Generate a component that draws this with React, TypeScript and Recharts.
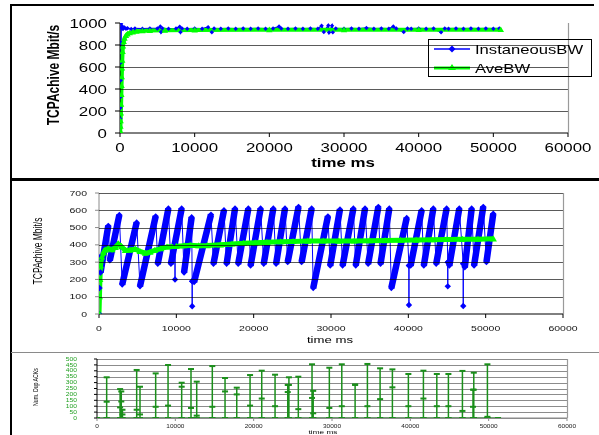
import { LineChart, Line, XAxis, YAxis, Legend } from 'recharts'

const BLUE = '#0000ff'
const LIME = '#00ff00'
const ACK_GREEN = '#1b8f1b'
const FONT = '"Liberation Sans", Arial, sans-serif'

// ---- top panel: throughput, whole run ----
const instTime1 = [
  0, 20, 40, 60, 80, 100, 120, 140, 160, 200,
  300, 400, 600, 800, 1000, 1500, 2000, 3000, 4000, 5000,
  5400, 5500, 5700, 6500, 7500, 8000, 8100, 8300, 9000, 10000,
  11000, 11800, 12300, 12600, 13500, 14500, 15500, 16500, 17500, 18500,
  19500, 20500, 21300, 21600, 22500, 23500, 24500, 25500, 26500, 27000,
  27300, 27900, 28000, 28400, 28500, 28900, 30000, 31000, 32000, 33000,
  34000, 35000, 36000, 36600, 37000, 38000, 38500, 39000, 40000, 41000,
  42000, 43000, 43500, 44000, 45000, 46000, 47000, 48000, 49000, 50000,
  50800,
]
const instBw1 = [
  0, 60, 130, 230, 330, 480, 640, 820, 1000, 955,
  970, 945, 960, 948, 952, 945, 950, 948, 950, 950,
  968, 918, 950, 948, 950, 966, 917, 950, 948, 950,
  948, 962, 916, 950, 948, 950, 948, 950, 948, 950,
  948, 950, 968, 950, 948, 950, 948, 950, 948, 975,
  918, 978, 914, 975, 915, 950, 948, 950, 948, 955,
  948, 950, 948, 968, 950, 918, 950, 948, 950, 948,
  950, 915, 950, 948, 950, 948, 950, 948, 950, 948,
  950,
]
const aveTime1 = [0, 30, 60, 90, 120, 150, 180, 210, 240, 270, 300, 350, 400, 500, 600, 800, 1000, 1300, 1700, 2200, 3000, 4000, 6000, 10000, 20000, 30000, 40000, 51000]
const aveBw1 = [0, 20, 60, 110, 180, 260, 350, 430, 510, 590, 660, 740, 790, 830, 860, 885, 900, 910, 918, 924, 928, 931, 934, 936, 938, 938, 939, 939]

// ---- middle panel: sawtooth run ----
const startTime2 = [0, 60, 120]
const startBw2 = [0, 150, 330]
const toothLowTime = [200, 1400, 3000, 5300, 7600, 9300, 11000, 12300, 14800, 16500, 18000, 19600, 21300, 22900, 24400, 26200, 27700, 29900, 31500, 33200, 34800, 36400, 37800, 40300, 42000, 43600, 45300, 47300, 48500, 50100]
const toothLowBw = [240, 310, 170, 160, 290, 290, 240, 185, 290, 290, 290, 280, 290, 290, 300, 300, 150, 280, 280, 280, 290, 290, 150, 280, 280, 290, 280, 270, 280, 300]
const toothPeakTime = [1200, 2630, 4870, 7330, 8970, 10690, 11980, 14480, 16160, 17590, 19310, 20900, 22540, 24050, 25800, 27500, 29600, 31160, 32890, 34400, 36120, 37540, 39790, 41720, 43230, 44950, 46590, 48190, 49690, 50980]
const toothPeakBw = [510, 573, 530, 565, 610, 610, 560, 575, 600, 610, 610, 610, 610, 610, 620, 610, 565, 605, 610, 610, 620, 610, 555, 600, 610, 610, 610, 610, 620, 580]
const dipTime = [9830, 12050, 40080, 45100, 47100]
const dipTop = [410, 190, 280, 300, 290]
const dipBottom = [200, 45, 52, 160, 46]
const aveTime2 = [0, 60, 120, 200, 350, 600, 800, 1200, 1700, 2100, 2500, 2900, 3400, 4000, 4700, 5300, 6000, 6600, 7200, 8000, 8800, 10000, 11000, 11800, 12900, 14000, 15700, 17200, 18700, 20200, 21700, 23500, 25100, 27000, 29000, 31000, 33000, 35000, 37000, 39000, 41000, 43000, 45000, 47000, 49000, 51000]
const aveBw2 = [0, 100, 200, 280, 330, 355, 370, 378, 372, 385, 405, 390, 368, 370, 375, 362, 352, 358, 368, 378, 388, 392, 395, 398, 395, 396, 400, 405, 410, 412, 415, 418, 420, 422, 423, 422, 423, 424, 425, 427, 428, 430, 431, 432, 433, 435]

// ---- bottom panel: duplicate ACKs ----
const ackTime = [1235, 2950, 3100, 3250, 5065, 5490, 7490, 9070, 10810, 12000, 12730, 14720, 16345, 17840, 19540, 21030, 22730, 24350, 24500, 25700, 27450, 27600, 29660, 31250, 32950, 34520, 36140, 37710, 39750, 41670, 43380, 44860, 46650, 48000, 48100, 49840]
const ackPeak = [345, 245, 225, 70, 407, 265, 378, 449, 299, 415, 308, 440, 339, 257, 364, 401, 367, 280, 345, 350, 455, 230, 426, 455, 285, 458, 421, 412, 373, 401, 373, 373, 399, 240, 384, 455]
const ackMid = [138, 90, 140, 30, 70, 30, 95, 105, 265, 85, 20, 95, 225, 200, 105, 165, 100, 220, 280, 75, 170, 40, 85, 100, 280, 100, 160, 260, 100, 165, 100, 100, 60, 95, 240, 10]
const ackEndTime = 51200

const timeTicks = [0, 10000, 20000, 30000, 40000, 50000, 60000]
const bwTicks1 = [0, 200, 400, 600, 800, 1000]
const bwTicks2 = [0, 100, 200, 300, 400, 500, 600, 700]
const ackTicks = [0, 50, 100, 150, 200, 250, 300, 350, 400, 450, 500]

type Pt = { t: number; v: number | null }
const zip = (ts: number[], vs: number[]): Pt[] => ts.map((t, i) => ({ t, v: vs[i] }))

const instData1 = zip(instTime1, instBw1)
const aveData1 = zip(aveTime1, aveBw1)

const instAll2: Pt[] = [
  ...zip(startTime2, startBw2),
  ...toothLowTime.flatMap((t, i) => [{ t, v: toothLowBw[i] }, { t: toothPeakTime[i], v: toothPeakBw[i] }]),
  ...dipTime.flatMap((t, i) => [{ t, v: dipTop[i] }, { t, v: dipBottom[i] }, { t, v: dipTop[i] }]),
].sort((a, b) => a.t - b.t)

// ramps only, broken after each peak so the drops stay thin
const ramp2: Pt[] = toothLowTime.flatMap((t, i) => [
  { t, v: toothLowBw[i] },
  { t: toothPeakTime[i], v: toothPeakBw[i] },
  { t: toothPeakTime[i], v: null },
])
const aveData2 = zip(aveTime2, aveBw2)

const ackData: Pt[] = [{ t: 0, v: 0 }]
ackTime.forEach((t, i) => {
  ackData.push({ t, v: 0 }, { t, v: ackMid[i] }, { t, v: ackPeak[i] }, { t, v: 0 })
})
ackData.push({ t: ackEndTime, v: 0 })

function makeTick(fontSize: number, sx: number, anchor: 'start' | 'middle' | 'end', dy: string, fill: string) {
  return (props: any) => {
    const { x, y, payload } = props
    return (
      <g transform={`translate(${x},${y}) scale(${sx},1)`}>
        <text x={0} y={0} dy={dy} textAnchor={anchor} fontSize={fontSize} fontFamily={FONT} fill={fill}>
          {payload.value}
        </text>
      </g>
    )
  }
}

const diamond = (r: number, color: string) => (props: any) => {
  const { cx, cy, index } = props
  if (cx == null || cy == null || isNaN(cy)) return <g key={index} />
  return <path key={index} d={`M${cx},${cy - r}L${cx + r},${cy}L${cx},${cy + r}L${cx - r},${cy}Z`} fill={color} />
}

const triangle = (r: number, color: string) => (props: any) => {
  const { cx, cy, index } = props
  if (cx == null || cy == null || isNaN(cy)) return <g key={index} />
  return <path key={index} d={`M${cx},${cy - r}L${cx + r},${cy + r * 0.75}L${cx - r},${cy + r * 0.75}Z`} fill={color} />
}

const dash = (color: string) => (props: any) => {
  const { cx, cy, index } = props
  if (cx == null || cy == null) return <g key={index} />
  return <rect key={index} x={cx - 3} y={cy - 1} width={6} height={2} fill={color} />
}

function StretchText({ x, y, sx = 1, rotate = false, size, bold = false, children }: any) {
  const tf = rotate ? `translate(${x},${y}) rotate(-90) scale(1,${sx})` : `translate(${x},${y}) scale(${sx},1)`
  return (
    <text transform={tf} textAnchor="middle" fontSize={size} fontFamily={FONT} fontWeight={bold ? 'bold' : 'normal'} fill="#000">
      {children}
    </text>
  )
}

function TopLegend() {
  return (
    <svg width={164} height={38} style={{ display: 'block' }}>
      <rect x={0.5} y={0.5} width={163} height={37} fill="#fff" stroke="#000" />
      <line x1={6} x2={42} y1={10} y2={10} stroke={BLUE} strokeWidth={1.5} />
      <path d="M24,6.5L27.5,10L24,13.5L20.5,10Z" fill={BLUE} />
      <text transform="translate(47,15) scale(1.28,1)" fontSize={13} fontFamily={FONT}>InstaneousBW</text>
      <line x1={6} x2={42} y1={29} y2={29} stroke={LIME} strokeWidth={3} />
      <path d="M24,25L28,31L20,31Z" fill={LIME} />
      <text transform="translate(47,34) scale(1.28,1)" fontSize={13} fontFamily={FONT}>AveBW</text>
    </svg>
  )
}

// Excel-style plot area: gridlines at each y tick plus a right border
function PlotArea({ box, ticks, max, stroke, w, h, sw = 1, skip = [] }: any) {
  const [x, y, pw, ph] = box
  return (
    <svg width={w} height={h} style={{ position: 'absolute', left: 0, top: 0, pointerEvents: 'none', mixBlendMode: 'multiply' }}>
      {ticks.filter((v: number) => !skip.includes(v)).map((v: number) => {
        const gy = Math.round(y + ph * (1 - v / max)) + 0.5
        return <line key={v} x1={x} x2={x + pw} y1={gy} y2={gy} stroke={stroke} strokeWidth={sw} />
      })}
      <line x1={x + pw + 0.5} x2={x + pw + 0.5} y1={y} y2={y + ph} stroke="#9a9a9a" strokeWidth={1.2} />
    </svg>
  )
}

const abs = (left: number, top: number, width: number, height: number, extra: any = {}) => ({
  position: 'absolute' as const, left, top, width, height, ...extra,
})

export default function App() {
  return (
    <div style={abs(0, 0, 599, 435, { background: '#fff' })}>
      {/* frame lines */}
      <div style={abs(11, 4, 583, 2, { background: '#000' })} />
      <div style={abs(10, 4, 2, 431, { background: '#000' })} />
      <div style={abs(11, 178, 588, 3, { background: '#000' })} />
      <div style={abs(11, 352, 588, 1, { background: '#8a8a8a' })} />

      <div style={abs(0, 0, 599, 178)}>
        <LineChart width={599} height={178} margin={{ top: 23, right: 31, bottom: 5, left: 0 }}>
          <XAxis dataKey="t" type="number" domain={[0, 60000]} ticks={timeTicks} interval={0} height={40} tickSize={4} tickMargin={6}
            axisLine={{ stroke: '#000' }} tickLine={{ stroke: '#000' }} tick={makeTick(12.5, 1.35, 'middle', '0.71em', '#000')} allowDataOverflow />
          <YAxis type="number" domain={[0, 1000]} ticks={bwTicks1} interval={0} width={120} tickSize={5} tickMargin={8}
            axisLine={{ stroke: '#000' }} tickLine={{ stroke: '#000' }} tick={makeTick(12.5, 1.35, 'end', '0.36em', '#000')} allowDataOverflow />
          <Line data={instData1} dataKey="v" name="InstaneousBW" type="linear" stroke={BLUE} strokeWidth={1.5} dot={diamond(2.2, BLUE)} isAnimationActive={false} />
          <Line data={aveData1} dataKey="v" name="AveBW" type="linear" stroke={LIME} strokeWidth={4} dot={triangle(3.2, LIME)} isAnimationActive={false} />
          <Legend layout="horizontal" verticalAlign="middle" align="center" content={() => <TopLegend />}
            wrapperStyle={{ left: 428, top: 39, width: 164, height: 38 }} />
          <StretchText x={343} y={167} sx={1.35} size={12.5} bold>time ms</StretchText>
          <StretchText x={59} y={75} sx={1.35} size={12} bold rotate>TCPAchive Mbit/s</StretchText>
        </LineChart>
        <PlotArea box={[120, 23, 448, 110]} ticks={bwTicks1} skip={[0, 1000]} max={1000} stroke="#5a5a5a" sw={1.2} w={599} h={178} />
      </div>

      <div style={abs(0, 179, 599, 173)}>
        <LineChart width={599} height={173} margin={{ top: 14, right: 36, bottom: 5, left: 0 }}>
          <XAxis dataKey="t" type="number" domain={[0, 60000]} ticks={timeTicks} interval={0} height={33} tickSize={4} tickMargin={8}
            axisLine={{ stroke: '#000' }} tickLine={{ stroke: '#000' }} tick={makeTick(7, 1.5, 'middle', '0.71em', '#111')} allowDataOverflow />
          <YAxis type="number" domain={[0, 700]} ticks={bwTicks2} interval={0} width={99} tickSize={4} tickMargin={8}
            axisLine={{ stroke: '#8a8a8a' }} tickLine={{ stroke: '#8a8a8a' }} tick={makeTick(7, 1.5, 'end', '0.36em', '#111')} allowDataOverflow />
          <Line data={ramp2} dataKey="v" name="InstaneousBW" type="linear" stroke={BLUE} strokeWidth={6.5} dot={false} connectNulls={false} isAnimationActive={false} legendType="none" />
          <Line data={instAll2} dataKey="v" name="InstaneousBW" type="linear" stroke={BLUE} strokeWidth={1} dot={diamond(3.2, BLUE)} isAnimationActive={false} />
          <Line data={aveData2} dataKey="v" name="AveBW" type="linear" stroke={LIME} strokeWidth={5} dot={triangle(3.5, LIME)} isAnimationActive={false} />
          <StretchText x={330} y={164} sx={1.55} size={8.5}>time ms</StretchText>
          <StretchText x={42} y={72} sx={1.4} size={8.5} rotate>TCPAchive Mbit/s</StretchText>
        </LineChart>
        <PlotArea box={[99, 14, 464, 121]} ticks={bwTicks2} skip={[0]} max={700} stroke="#5a5a5a" sw={1.2} w={599} h={173} />
      </div>

      <div style={abs(0, 352, 599, 83)}>
        <PlotArea box={[97, 7, 470, 59]} ticks={ackTicks} max={500} stroke="#8c8c8c" w={599} h={83} />
        <LineChart width={599} height={83} margin={{ top: 7, right: 32, bottom: 0, left: 0 }}>
          <XAxis dataKey="t" type="number" domain={[0, 60000]} ticks={timeTicks} interval={0} height={17} tickSize={3} tickMargin={3}
            axisLine={{ stroke: '#8a8a8a' }} tickLine={{ stroke: '#8a8a8a' }} tick={makeTick(5, 1.3, 'middle', '0.71em', '#222')} allowDataOverflow />
          <YAxis type="number" domain={[0, 500]} ticks={ackTicks} interval={0} width={97} tickSize={3} tickMargin={17}
            axisLine={{ stroke: '#000' }} tickLine={{ stroke: '#000' }} tick={makeTick(4.5, 1.5, 'end', '0.36em', '#22a022')} allowDataOverflow />
          <Line data={ackData} dataKey="v" name="Num. Dup ACKs" type="linear" stroke={ACK_GREEN} strokeWidth={1.5} dot={dash(ACK_GREEN)} isAnimationActive={false} />
          <StretchText x={323} y={82} sx={1.5} size={5.5}>time ms</StretchText>
          <StretchText x={38} y={35} sx={1.4} size={5.2} rotate>Num. Dup ACKs</StretchText>
        </LineChart>
      </div>
    </div>
  )
}
